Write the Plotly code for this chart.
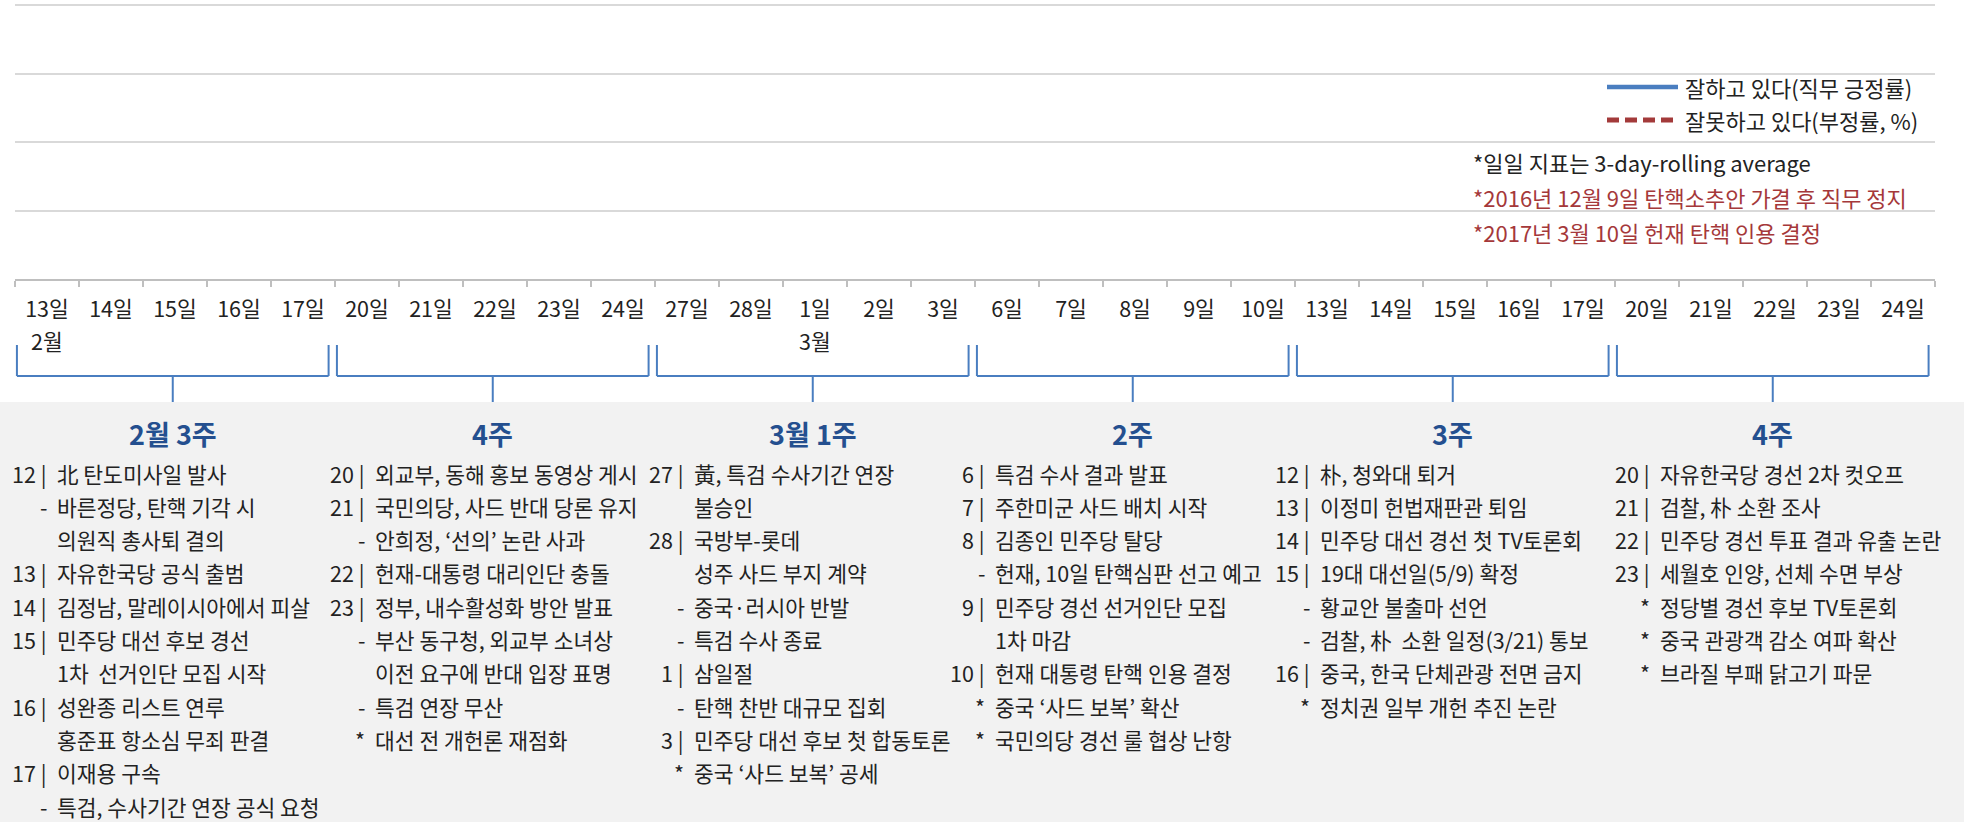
import plotly.graph_objects as go

# ---------------- data ----------------
dates = [
    "2017-02-13", "2017-02-14", "2017-02-15", "2017-02-16", "2017-02-17",
    "2017-02-20", "2017-02-21", "2017-02-22", "2017-02-23", "2017-02-24",
    "2017-02-27", "2017-02-28", "2017-03-01", "2017-03-02", "2017-03-03",
    "2017-03-06", "2017-03-07", "2017-03-08", "2017-03-09", "2017-03-10",
    "2017-03-13", "2017-03-14", "2017-03-15", "2017-03-16", "2017-03-17",
    "2017-03-20", "2017-03-21", "2017-03-22", "2017-03-23", "2017-03-24",
]
day_labels = [
    "13일", "14일", "15일", "16일", "17일",
    "20일", "21일", "22일", "23일", "24일",
    "27일", "28일", "1일", "2일", "3일",
    "6일", "7일", "8일", "9일", "10일",
    "13일", "14일", "15일", "16일", "17일",
    "20일", "21일", "22일", "23일", "24일",
]
month_marks = [("2017-02-13", "2월"), ("2017-03-01", "3월")]

# Job rating was suspended (impeachment) – no daily values in this period
approval = [None, None, None, None, None, None, None, None, None, None,
            None, None, None, None, None, None, None, None, None, None,
            None, None, None, None, None, None, None, None, None, None]
disapproval = [None, None, None, None, None, None, None, None, None, None,
               None, None, None, None, None, None, None, None, None, None,
               None, None, None, None, None, None, None, None, None, None]

series_names = ["잘하고 있다(직무 긍정률)", "잘못하고 있다(부정률, %)"]
notes = [
    ("*일일 지표는 3-day-rolling average", "#222222"),
    ("*2016년 12월 9일 탄핵소추안 가결 후 직무 정지", "#a5383a"),
    ("*2017년 3월 10일 헌재 탄핵 인용 결정", "#a5383a"),
]

week_titles = ["2월 3주", "4주", "3월 1주", "2주", "3주", "4주"]

events = [
    [("12", "北 탄도미사일 발사"), ("-", "바른정당, 탄핵 기각 시"), ("", "의원직 총사퇴 결의"),
     ("13", "자유한국당 공식 출범"), ("14", "김정남, 말레이시아에서 피살"),
     ("15", "민주당 대선 후보 경선"), ("", "1차  선거인단 모집 시작"),
     ("16", "성완종 리스트 연루"), ("", "홍준표 항소심 무죄 판결"),
     ("17", "이재용 구속"), ("-", "특검, 수사기간 연장 공식 요청")],
    [("20", "외교부, 동해 홍보 동영상 게시"), ("21", "국민의당, 사드 반대 당론 유지"),
     ("-", "안희정, ‘선의’ 논란 사과"), ("22", "헌재-대통령 대리인단 충돌"),
     ("23", "정부, 내수활성화 방안 발표"), ("-", "부산 동구청, 외교부 소녀상"),
     ("", "이전 요구에 반대 입장 표명"), ("-", "특검 연장 무산"),
     ("*", "대선 전 개헌론 재점화")],
    [("27", "黃, 특검 수사기간 연장"), ("", "불승인"), ("28", "국방부-롯데"),
     ("", "성주 사드 부지 계약"), ("-", "중국·러시아 반발"), ("-", "특검 수사 종료"),
     ("1", "삼일절"), ("-", "탄핵 찬반 대규모 집회"),
     ("3", "민주당 대선 후보 첫 합동토론"), ("*", "중국 ‘사드 보복’ 공세")],
    [("6", "특검 수사 결과 발표"), ("7", "주한미군 사드 배치 시작"),
     ("8", "김종인 민주당 탈당"), ("-", "헌재, 10일 탄핵심판 선고 예고"),
     ("9", "민주당 경선 선거인단 모집"), ("", "1차 마감"),
     ("10", "헌재 대통령 탄핵 인용 결정"), ("*", "중국 ‘사드 보복’ 확산"),
     ("*", "국민의당 경선 룰 협상 난항")],
    [("12", "朴, 청와대 퇴거"), ("13", "이정미 헌법재판관 퇴임"),
     ("14", "민주당 대선 경선 첫 TV토론회"), ("15", "19대 대선일(5/9) 확정"),
     ("-", "황교안 불출마 선언"), ("-", "검찰, 朴  소환 일정(3/21) 통보"),
     ("16", "중국, 한국 단체관광 전면 금지"), ("*", "정치권 일부 개헌 추진 논란")],
    [("20", "자유한국당 경선 2차 컷오프"), ("21", "검찰, 朴 소환 조사"),
     ("22", "민주당 경선 투표 결과 유출 논란"), ("23", "세월호 인양, 선체 수면 부상"),
     ("*", "정당별 경선 후보 TV토론회"), ("*", "중국 관광객 감소 여파 확산"),
     ("*", "브라질 부패 닭고기 파문")],
]

# ---------------- layout helpers ----------------
W, H = 1964, 822
L, R, T, B = 15, 1935, 1, 279
Y_TOP = 100 * (B - T) / 274.0   # keeps the 25-step gridlines 68.5 px apart
FONT = "Noto Sans CJK KR, Noto Sans, sans-serif"
FS = 21.5
BLUE = "#4a7ec0"
RED = "#a33a3a"
TITLE_BLUE = "#244f8f"
TXT = "#222222"


def px(x):
    return (x - L) / (R - L)


def py(y):
    return (B - y) / (B - T)


fig = go.Figure()
fig.add_trace(go.Scatter(x=dates, y=approval, mode="lines", name=series_names[0],
                         line=dict(color=BLUE, width=4), showlegend=False,
                         connectgaps=False))
fig.add_trace(go.Scatter(x=dates, y=disapproval, mode="lines", name=series_names[1],
                         line=dict(color=RED, width=5, dash="12px,6px"), showlegend=False,
                         connectgaps=False))

shapes = []
annotations = []

# grey panel under the timeline
shapes.append(dict(type="rect", xref="paper", yref="paper", layer="below",
                   x0=px(-5), x1=px(W + 5), y0=py(402), y1=py(W),
                   fillcolor="#f2f2f2", line=dict(width=0)))

# manual legend
shapes.append(dict(type="line", xref="paper", yref="paper", x0=px(1607), x1=px(1678),
                   y0=py(87), y1=py(87), line=dict(color=BLUE, width=4.5)))
shapes.append(dict(type="line", xref="paper", yref="paper", x0=px(1607), x1=px(1678),
                   y0=py(120), y1=py(120), line=dict(color=RED, width=5, dash="12px,6px")))
for name, yy in zip(series_names, [87, 120]):
    annotations.append(dict(xref="paper", yref="paper", x=px(1683), y=py(yy),
                            xanchor="left", yanchor="middle", showarrow=False,
                            text=name, font=dict(family=FONT, size=22, color=TXT)))

# notes
for (txt, col), yy in zip(notes, [162, 197, 232]):
    annotations.append(dict(xref="paper", yref="paper", x=px(1471), y=py(yy),
                            xanchor="left", yanchor="middle", showarrow=False,
                            text=txt, font=dict(family=FONT, size=22, color=col)))

# month labels under the first day of each month
for d, m in month_marks:
    annotations.append(dict(xref="x", yref="paper", x=dates.index(d), y=py(340),
                            xanchor="center", yanchor="middle", showarrow=False,
                            text=m, font=dict(family=FONT, size=FS, color=TXT)))

# week brackets + titles
n_per_week = 5
for i, title in enumerate(week_titles):
    x0 = i * n_per_week - 0.5 + 0.03
    x1 = i * n_per_week + n_per_week - 0.5 - 0.1
    xc = (x0 + x1) / 2
    ln = dict(color=BLUE, width=2)
    shapes.append(dict(type="line", xref="x", yref="paper", x0=x0, x1=x0,
                       y0=py(345), y1=py(376), line=ln))
    shapes.append(dict(type="line", xref="x", yref="paper", x0=x1, x1=x1,
                       y0=py(345), y1=py(376), line=ln))
    shapes.append(dict(type="line", xref="x", yref="paper", x0=x0, x1=x1,
                       y0=py(376), y1=py(376), line=ln))
    shapes.append(dict(type="line", xref="x", yref="paper", x0=xc, x1=xc,
                       y0=py(376), y1=py(402), line=ln))
    annotations.append(dict(xref="x", yref="paper", x=xc, y=py(433),
                            xanchor="center", yanchor="middle", showarrow=False,
                            text="<b>" + title + "</b>",
                            font=dict(family=FONT, size=27, color=TITLE_BLUE)))

# event columns
text_x = [55, 373, 692, 993, 1318, 1658]
line_y0, line_dy = 473, 33.3
for col, tx in zip(events, text_x):
    for j, (pre, body) in enumerate(col):
        yy = line_y0 + j * line_dy
        if pre:
            ptxt = pre if pre in ("-", "*") else pre + " |"
            annotations.append(dict(xref="paper", yref="paper", x=px(tx - 6), y=py(yy),
                                    xanchor="right", yanchor="middle", showarrow=False,
                                    text=ptxt, font=dict(family=FONT, size=FS, color=TXT)))
        annotations.append(dict(xref="paper", yref="paper", x=px(tx), y=py(yy),
                                xanchor="left", yanchor="middle", showarrow=False,
                                text=body, font=dict(family=FONT, size=FS, color=TXT)))

fig.update_layout(
    width=W, height=H,
    margin=dict(l=L, r=W - R, t=T, b=H - B, pad=0),
    paper_bgcolor="white", plot_bgcolor="white",
    font=dict(family=FONT, size=FS, color=TXT),
    shapes=shapes, annotations=annotations,
    showlegend=False,
    xaxis=dict(type="category", categoryorder="array", categoryarray=dates,
               tickvals=dates, ticktext=day_labels, range=[-0.5, len(dates) - 0.5],
               showgrid=False, showline=True, linecolor="#bfbfbf", linewidth=2,
               ticks="outside", tickson="boundaries", ticklen=6, tickcolor="#bfbfbf",
               tickwidth=1.5, tickfont=dict(family=FONT, size=FS, color=TXT),
               ticklabelstandoff=10, zeroline=False, fixedrange=True),
    yaxis=dict(range=[0, Y_TOP], tickmode="array", tickvals=[0, 25, 50, 75, 100],
               showgrid=True, gridcolor="#d9d9d9",
               gridwidth=1.5, showticklabels=False, zeroline=False, showline=False,
               ticks="", fixedrange=True),
)

fig.write_html("out.html", config={"displayModeBar": False},
               post_script="document.body.style.margin='0px';document.body.style.overflow='hidden';")
